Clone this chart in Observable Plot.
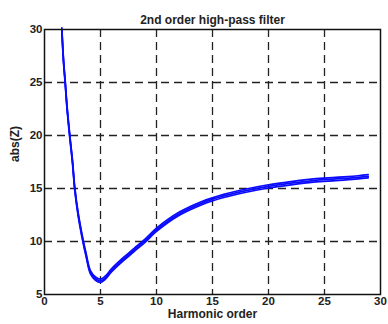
<!DOCTYPE html>
<html>
<head>
<meta charset="utf-8">
<script src="https://cdn.jsdelivr.net/npm/d3@7"></script>
<script src="https://cdn.jsdelivr.net/npm/@observablehq/plot@0.6"></script>
<style>
  html, body { margin: 0; padding: 0; background: #fff; }
  #chart svg { display: block; }
</style>
</head>
<body>
<div id="chart"></div>
<script>
const title = "2nd order high-pass filter";
const xLabel = "Harmonic order";
const yLabel = "abs(Z)";
const xTicks = [0, 5, 10, 15, 20, 25, 30];
const yTicks = [5, 10, 15, 20, 25, 30];
const harmonic = [1.55, 1.7, 1.85, 2.0, 2.25, 2.5, 2.7, 3.0, 3.45, 3.7, 4.1, 4.55, 5.0, 5.4, 6.0, 7.0, 8.0, 9.0, 10, 12, 14, 16, 18, 20, 22, 24, 26, 28, 28.9];
const absZ =     [30, 27, 25, 22.8, 20, 17.5, 15, 12.6, 10, 8.8, 7.1, 6.5, 6.3, 6.55, 7.3, 8.3, 9.2, 10.1, 11.1, 12.6, 13.6, 14.3, 14.8, 15.2, 15.5, 15.75, 15.9, 16.05, 16.15];

const data = harmonic.map((h, i) => ({x: h, y: absZ[i]}));
const font = "Liberation Sans, Arial, sans-serif";
const blue = "#0a0aff";
const ink = "#222";

const chart = Plot.plot({
  width: 388,
  height: 324,
  marginLeft: 44,
  marginRight: 8,
  marginTop: 29,
  marginBottom: 30,
  style: {fontFamily: font, fontSize: "12px", fontWeight: "bold", color: ink, background: "#fff"},
  x: {domain: [0, 30], ticks: xTicks, label: null},
  y: {domain: [5, 30], ticks: yTicks, label: null},
  marks: [
    Plot.ruleX(xTicks.slice(1, -1), {stroke: "#222", strokeWidth: 1.3, strokeDasharray: "8,5"}),
    Plot.ruleY(yTicks.slice(1, -1), {stroke: "#222", strokeWidth: 1.3, strokeDasharray: "8,5"}),
    Plot.line(data, {x: "x", y: "y", stroke: blue, strokeWidth: 1.7, dy: -1.6, curve: "catmull-rom"}),
    Plot.line(data, {x: "x", y: "y", stroke: blue, strokeWidth: 1.7, dy: 0, curve: "catmull-rom"}),
    Plot.line(data, {x: "x", y: "y", stroke: blue, strokeWidth: 1.7, dy: 1.6, curve: "catmull-rom"}),
    Plot.frame({stroke: "#111", strokeWidth: 1.5}),
    Plot.axisX({ticks: xTicks, tickSize: 0, tickPadding: 2, label: null, fontSize: 11.5}),
    Plot.axisY({ticks: yTicks, tickSize: 0, tickPadding: 2, label: null, fontSize: 11.5}),
    Plot.text([title], {frameAnchor: "top", dy: -14, text: d => d, fontSize: 12, fontWeight: "bold", fill: ink}),
    Plot.text([xLabel], {frameAnchor: "bottom", dy: 23.5, text: d => d, fontSize: 12, fontWeight: "bold", fill: ink}),
    Plot.text([yLabel], {frameAnchor: "left", dx: -29, rotate: -90, text: d => d, fontSize: 12, fontWeight: "bold", fill: ink})
  ]
});
document.getElementById("chart").appendChild(chart);
</script>
</body>
</html>
